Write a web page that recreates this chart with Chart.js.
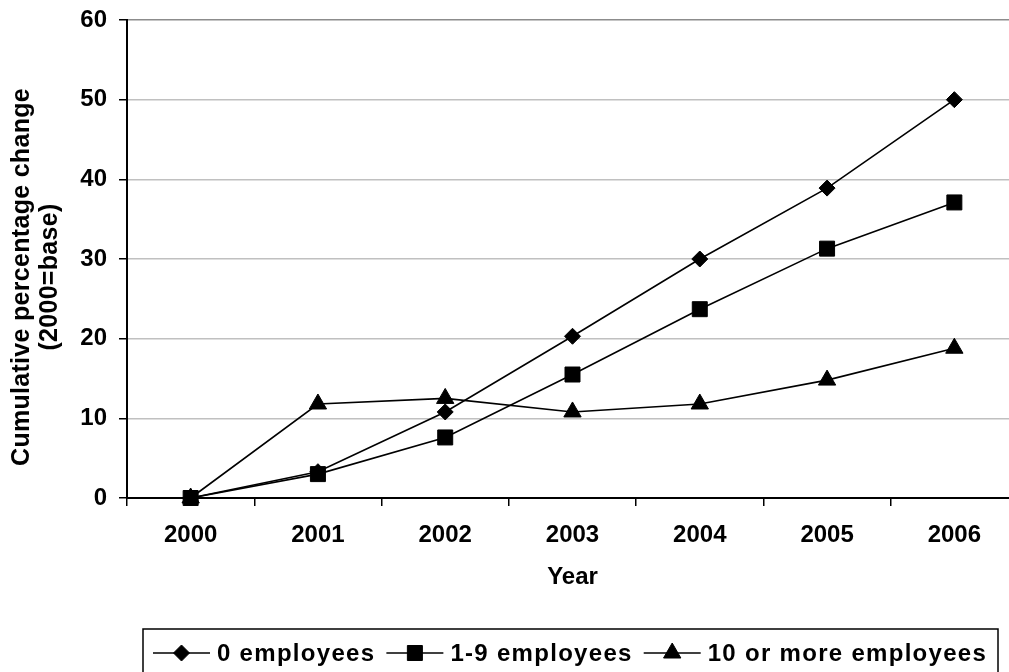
<!DOCTYPE html>
<html>
<head>
<meta charset="utf-8">
<script src="https://cdn.jsdelivr.net/npm/chart.js@4.4.1/dist/chart.umd.min.js"></script>
<style>
  html, body {
    margin: 0;
    padding: 0;
    background: #fff;
    overflow: hidden;
  }

  .chart-frame {
    position: relative;
    width: 1030px;
    height: 672px;
  }
</style>
</head>
<body>
<div class="chart-frame">
  <canvas id="chart"></canvas>
</div>
<script>
const years = ["2000", "2001", "2002", "2003", "2004", "2005", "2006"];
const noEmployees = [0, 3.3, 10.8, 20.3, 30, 38.9, 50];
const smallFirms = [0, 3.0, 7.6, 15.5, 23.7, 31.3, 37.1];
const largerFirms = [0, 11.8, 12.5, 10.8, 11.8, 14.8, 18.8];
const seriesLabels = ["0 employees", "1-9 employees", "10 or more employees"];
const yTicks = [0, 10, 20, 30, 40, 50, 60];
const yTitle = ["Cumulative percentage change", "(2000=base)"];

const FONT = "'Liberation Sans', Arial, sans-serif";

function series(label, data, pointStyle, radius) {
  return {
    label,
    data,
    pointStyle,
    pointRadius: radius,
    pointHoverRadius: radius,
    borderColor: "#000",
    backgroundColor: "#000",
    pointBorderWidth: 1,
    borderWidth: 1.6,
    tension: 0,
    clip: false,
  };
}

// the y title sits a little below the middle of the axis in the source
const sideTitle = {
  id: "side-title",
  afterDraw: chart => {

    const ctx = chart.ctx;
    ctx.save();
    ctx.translate(22, 277);
    ctx.rotate(-Math.PI / 2);
    ctx.font = `bold 25px ${FONT}`;
    ctx.letterSpacing = "0.3px";
    ctx.fillStyle = "#000";
    ctx.textAlign = "center";
    ctx.textBaseline = "middle";
    yTitle.forEach((line, i) => ctx.fillText(line, 0, i * 28));
    ctx.restore();
  },
};

// legend drawn by hand: a line running through the marker, as in the source
const lineLegend = {
  id: "line-legend",
  afterDraw: chart => {

    const ctx = chart.ctx;
    const top = 629;
    const rowY = 653;
    ctx.save();
    ctx.lineWidth = 1.5;
    ctx.strokeStyle = "#000";
    ctx.strokeRect(143, top, 998 - 143, 80);

    ctx.font = `bold 24px ${FONT}`;
    ctx.letterSpacing = "1.3px";
    ctx.textBaseline = "middle";
    ctx.textAlign = "left";

    let x = 153;
    chart.data.datasets.forEach(dataset => {
      ctx.strokeStyle = "#000";
      ctx.fillStyle = "#000";
      ctx.lineWidth = 1.5;
      ctx.beginPath();
      ctx.moveTo(x, rowY);
      ctx.lineTo(x + 57, rowY);
      ctx.stroke();
      ctx.lineWidth = 1;
      Chart.helpers.drawPoint(ctx, {
        pointStyle: dataset.pointStyle,
        radius: dataset.pointRadius,
        rotation: 0,
        borderWidth: 1,
      }, x + 28.5, rowY);
      ctx.fillText(dataset.label, x + 64, rowY + 1);
      x += 64 + ctx.measureText(dataset.label).width + 11;
    });
    ctx.restore();
  },
};

new Chart(document.getElementById("chart"), {
  type: "line",
  data: {
    labels: years,
    datasets: [
      series(seriesLabels[0], noEmployees, "rectRot", 8),
      series(seriesLabels[1], smallFirms, "rect", 10.6),
      series(seriesLabels[2], largerFirms, "triangle", 10),
    ],
  },
  options: {
    responsive: true,
    maintainAspectRatio: false,
    animation: false,
    layout: {
      padding: { top: 20, right: 12, bottom: 0, left: 0 },
    },
    plugins: {
      legend: { display: false },
      tooltip: { enabled: false },
    },
    scales: {
      x: {
        offset: true,
        afterFit: scale => { scale.height = 174; },
        border: { color: "#000", width: 2 },
        grid: {
          offset: true,
          drawOnChartArea: false,
          tickLength: 8,
          color: "#000",
          lineWidth: 1.5,
        },
        ticks: {
          color: "#000",
          padding: 15,
          maxRotation: 0,
          font: { family: FONT, size: 24, weight: "bold" },
        },
        title: {
          display: true,
          text: "Year",
          color: "#000",
          padding: { top: 0, bottom: 80 },
          font: { family: FONT, size: 24, weight: "bold" },
        },
      },
      y: {
        min: 0,
        max: 60,
        afterFit: scale => { scale.width = 127; },
        afterBuildTicks: scale => { scale.ticks = yTicks.map(value => ({ value })); },
        border: { color: "#000", width: 2 },
        grid: {
          tickLength: 8,
          tickColor: "#000",
          tickWidth: 1.5,
          lineWidth: 1.5,
          color: c => c.tick.value === 0 ? "#000" : c.tick.value === 60 ? "#8c8c8c" : "#c0c0c0",
        },
        ticks: {
          color: "#000",
          padding: 12,
          font: { family: FONT, size: 24, weight: "bold", lineHeight: 0.6 },
        },
      },
    },
  },
  plugins: [ sideTitle, lineLegend ],
});
</script>
</body>
</html>
